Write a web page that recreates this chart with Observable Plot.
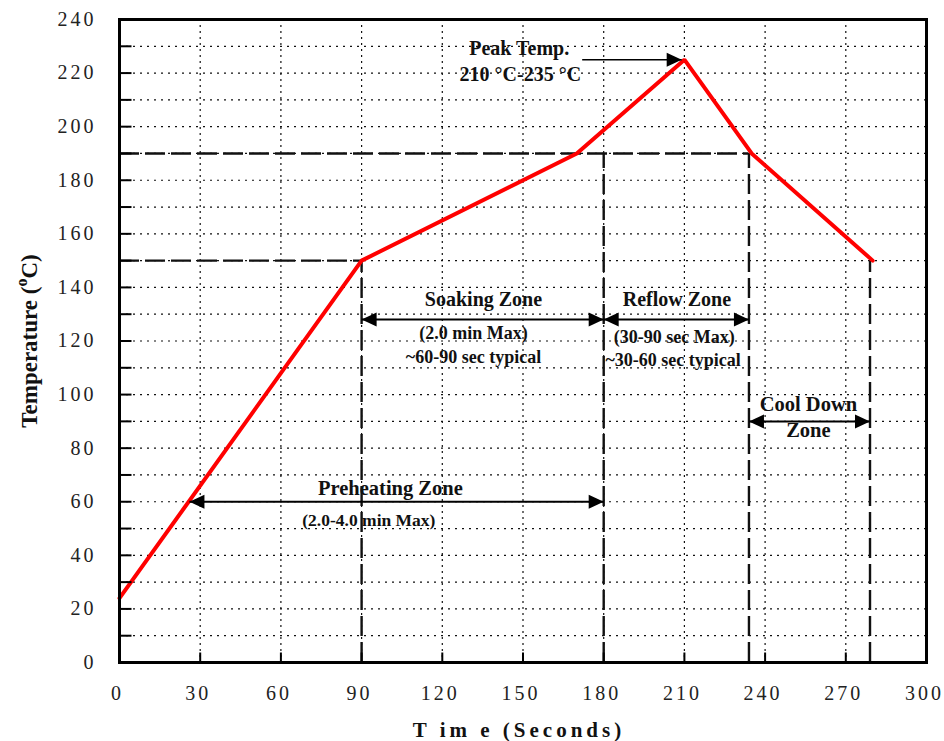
<!DOCTYPE html>
<html>
<head>
<meta charset="utf-8">
<script src="https://cdn.jsdelivr.net/npm/d3@7"></script>
<script src="https://cdn.jsdelivr.net/npm/@observablehq/plot@0.6"></script>
<style>
  html, body { margin: 0; padding: 0; background: #fff; }
  #chart svg { display: block; }
  #chart g[aria-label="y-axis tick label"] text { letter-spacing: 3px; }
  #chart g[aria-label="x-axis tick label"] text { letter-spacing: 3px; }
</style>
</head>
<body>
<div id="chart"></div>
<script>
// Reflow soldering temperature profile
const profileTime = [0, 90, 170, 210, 235, 280];
const profileTemp = [24, 150, 190, 225, 190, 150];

const xTickLabels = [0, 30, 60, 90, 120, 150, 180, 210, 240, 270, 300];
const yTickLabels = [0, 20, 40, 60, 80, 100, 120, 140, 160, 180, 200, 220, 240];
const xGrid = [30, 60, 90, 120, 150, 180, 210, 240, 270];
const yGrid = [10, 20, 30, 40, 50, 60, 70, 80, 90, 100, 110, 120, 130, 140, 150, 160, 170, 180, 190, 200, 210, 220, 230];

// dashed guide lines: level temperatures and zone boundaries
const guideTemps = [150, 190];
const guideTempEnds = [90, 234];
const boundaryTimes = [90, 180, 234, 279];
const boundaryTops = [150, 190, 190, 150];

// zone spans (double-headed arrows)
const zoneNames = ["Preheating", "Soaking", "Reflow", "Cool Down"];
const zoneStart = [26, 90, 180, 234];
const zoneEnd = [180, 180, 234, 279];
const zoneLevel = [60, 128, 128, 90];

// peak temperature pointer
const peakArrow = {x1: 172, x2: 209, y: 225};

// annotation texts
const notes = [
  {text: "Peak Temp.", x: 148.6, y: 229.2, size: 20},
  {text: "210 °C-235 °C", x: 149, y: 219.5, size: 20},
  {text: "Soaking Zone", x: 135.3, y: 135.4, size: 20},
  {text: "(2.0 min Max)", x: 131.6, y: 122.8, size: 18},
  {text: "~60-90 sec typical", x: 131.6, y: 113.9, size: 18},
  {text: "Reflow Zone", x: 207.2, y: 135.4, size: 20},
  {text: "(30-90 sec Max)", x: 206.2, y: 121.3, size: 18},
  {text: "~30-60 sec typical", x: 205.8, y: 113, size: 18},
  {text: "Cool Down", x: 256.1, y: 96.5, size: 20.5},
  {text: "Zone", x: 256.1, y: 86.8, size: 20.5},
  {text: "Preheating Zone", x: 100.7, y: 65, size: 20.5},
  {text: "(2.0-4.0 min Max)", x: 92.7, y: 52.9, size: 17.5}
];

const profile = profileTime.map((t, i) => ({t, temp: profileTemp[i]}));
const hGuides = guideTemps.map((v, i) => ({temp: v, end: guideTempEnds[i]}));
const vGuides = boundaryTimes.map((t, i) => ({t, top: boundaryTops[i]}));
const zones = zoneNames.map((n, i) => ({name: n, from: zoneStart[i], to: zoneEnd[i], at: zoneLevel[i]}));

// filled arrowhead symbols with their tip at the anchor point
const headRight = {draw(ctx) { ctx.moveTo(0, 0); ctx.lineTo(-15, -7); ctx.lineTo(-15, 7); ctx.closePath(); }};
const headLeft = {draw(ctx) { ctx.moveTo(0, 0); ctx.lineTo(15, -7); ctx.lineTo(15, 7); ctx.closePath(); }};
// short inward tick marks
const tickUp = {draw(ctx) { ctx.moveTo(0, 0); ctx.lineTo(0, -10); }};
const tickRight = {draw(ctx) { ctx.moveTo(0, 0); ctx.lineTo(12, 0); }};

const serif = "'Liberation Serif', 'Times New Roman', serif";

const chart = Plot.plot({
  width: 944,
  height: 741,
  marginTop: 19,
  marginRight: 18,
  marginBottom: 79,
  marginLeft: 119,
  style: {fontFamily: serif, background: "#fff", color: "#000"},
  x: {domain: [0, 300]},
  y: {domain: [0, 240]},
  marks: [
    // dotted grid
    Plot.ruleX(xGrid, {stroke: "#111", strokeWidth: 1.2, strokeDasharray: "2,4"}),
    Plot.ruleY(yGrid, {stroke: "#111", strokeWidth: 1.2, strokeDasharray: "2,5"}),
    // dashed guides
    Plot.ruleY(hGuides, {y: "temp", x1: 0, x2: "end", stroke: "#111", strokeWidth: 2.4, strokeDasharray: "20,6"}),
    Plot.ruleX(vGuides, {x: "t", y1: 0, y2: "top", stroke: "#111", strokeWidth: 2.4, strokeDasharray: "20,6"}),
    // temperature profile
    Plot.line(profile, {x: "t", y: "temp", stroke: "#ff0000", strokeWidth: 4, strokeLinejoin: "miter"}),
    // inward ticks
    Plot.dot(xTickLabels, {x: d => d, y: 0, symbol: tickUp, stroke: "#000", strokeWidth: 2, fill: "none"}),
    Plot.dot(d3.range(10, 240, 10), {x: 0, y: d => d, symbol: tickRight, stroke: "#000", strokeWidth: 2, fill: "none"}),
    Plot.frame({stroke: "#000", strokeWidth: 3}),
    // axes labels
    Plot.axisX({ticks: xTickLabels, tickSize: 0, tickPadding: 23, dx: -2, fontSize: 20, fill: "#222", label: null, tickFormat: d => String(d)}),
    Plot.axisY({ticks: yTickLabels, tickSize: 0, tickPadding: 23, fontSize: 20, fill: "#222", label: null, tickFormat: d => String(d)}),
    // zone arrows
    Plot.link(zones, {x1: "from", x2: "to", y1: "at", y2: "at", stroke: "#000", strokeWidth: 2}),
    Plot.dot(zones, {x: "to", y: "at", symbol: headRight, fill: "#000", stroke: "none"}),
    Plot.dot(zones, {x: "from", y: "at", symbol: headLeft, fill: "#000", stroke: "none"}),
    // peak pointer
    Plot.link([peakArrow], {x1: "x1", x2: "x2", y1: "y", y2: "y", stroke: "#000", strokeWidth: 1.5}),
    Plot.dot([peakArrow], {x: "x2", y: "y", symbol: headRight, fill: "#000", stroke: "none"}),
    // annotations
    Plot.text(notes, {x: "x", y: "y", text: "text", fontSize: d => d.size, fontWeight: "bold", fill: "#111", textAnchor: "middle"})
  ]
});

// axis titles (the temperature unit uses a raised "o")
const svg = d3.select(chart);
const yTitle = svg.append("text")
  .attr("transform", "translate(37,341) rotate(-90)")
  .attr("text-anchor", "middle")
  .attr("font-family", serif)
  .attr("font-weight", "bold")
  .attr("font-size", 23)
  .attr("fill", "#111");
yTitle.append("tspan").text("Temperature (");
yTitle.append("tspan").attr("dy", -10).attr("font-size", 16).text("o");
yTitle.append("tspan").attr("dy", 10).text("C)");

svg.append("text")
  .attr("x", 519)
  .attr("y", 737)
  .attr("text-anchor", "middle")
  .attr("font-family", serif)
  .attr("font-weight", "bold")
  .attr("font-size", 21)
  .attr("letter-spacing", "4px")
  .attr("fill", "#111")
  .text("T im e (Seconds)");

document.getElementById("chart").appendChild(chart);
</script>
</body>
</html>
